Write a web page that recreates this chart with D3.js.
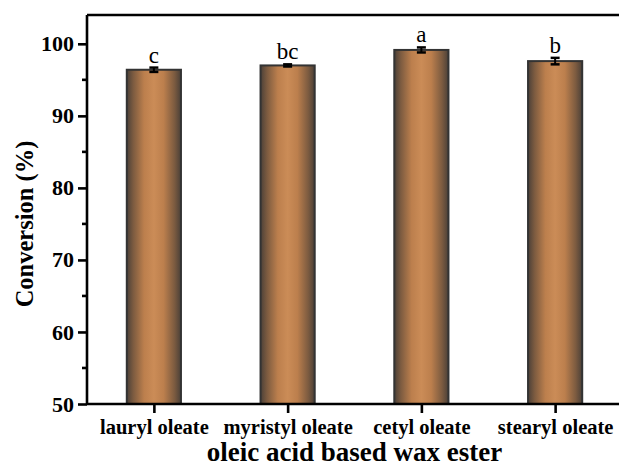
<!DOCTYPE html>
<html>
<head>
<meta charset="utf-8">
<script src="https://cdn.jsdelivr.net/npm/d3@7"></script>
<style>
  html, body { margin: 0; padding: 0; background: #fff; }
  svg { display: block; }
  text { font-family: "Liberation Serif", "Times New Roman", serif; fill: #000; }
</style>
</head>
<body>
<svg id="chart" width="619" height="468"></svg>
<script>
// Wax ester conversion data
const categories = ["lauryl oleate", "myristyl oleate", "cetyl oleate", "stearyl oleate"];
const conversion = [96.4, 97.0, 99.15, 97.6];
const errors = [0.3, 0.15, 0.35, 0.45];
const groupLetters = ["c", "bc", "a", "b"];
const yTicks = [50, 60, 70, 80, 90, 100];
const yMinorTicks = [55, 65, 75, 85, 95];

const svg = d3.select("#chart");
const plot = { left: 87, right: 622, top: 15, bottom: 404 };

const x = d3.scalePoint().domain(categories).range([plot.left, plot.right]).padding(0.5);
const y = d3.scaleLinear().domain([50, 104]).range([plot.bottom, plot.top]);
const barWidth = x.step() * 0.405;

// horizontal gradient giving the bars a cylindrical look
const defs = svg.append("defs");
const grad = defs.append("linearGradient").attr("id", "barGrad")
  .attr("x1", "0%").attr("x2", "100%").attr("y1", "0%").attr("y2", "0%");
[["0%", "#4b4038"], ["12%", "#7c5b40"], ["32%", "#bc7f4d"], ["50%", "#cb8c57"],
 ["68%", "#bc7f4d"], ["88%", "#7c5b40"], ["100%", "#4b4038"]]
  .forEach(([o, c]) => grad.append("stop").attr("offset", o).attr("stop-color", c));

const data = categories.map((c, i) => ({ cat: c, v: conversion[i], e: errors[i], g: groupLetters[i] }));

// bars
svg.append("g").selectAll("rect").data(data).join("rect")
  .attr("x", d => x(d.cat) - barWidth / 2)
  .attr("y", d => y(d.v))
  .attr("width", barWidth)
  .attr("height", d => y(50) - y(d.v))
  .attr("fill", "url(#barGrad)")
  .attr("stroke", "#333")
  .attr("stroke-width", 2);

// error bars
const eb = svg.append("g").attr("stroke", "#000").attr("stroke-width", 2);
data.forEach(d => {
  const cx = x(d.cat), cap = 4.5;
  eb.append("line").attr("x1", cx).attr("x2", cx).attr("y1", y(d.v + d.e)).attr("y2", y(d.v - d.e));
  eb.append("line").attr("x1", cx - cap).attr("x2", cx + cap).attr("y1", y(d.v + d.e)).attr("y2", y(d.v + d.e)).attr("stroke-width", 2.5);
  eb.append("line").attr("x1", cx - cap).attr("x2", cx + cap).attr("y1", y(d.v - d.e)).attr("y2", y(d.v - d.e)).attr("stroke-width", 2.5);
});

// significance letters
svg.append("g").selectAll("text").data(data).join("text")
  .attr("x", d => x(d.cat))
  .attr("y", d => y(d.v + d.e) - 5)
  .attr("text-anchor", "middle")
  .attr("font-size", 23)
  .text(d => d.g);

// frame (top and right)
svg.append("path")
  .attr("d", `M${plot.left},${plot.top}H${plot.right}V${plot.bottom}`)
  .attr("fill", "none").attr("stroke", "#000").attr("stroke-width", 2.6);

// y axis
const yAxis = svg.append("g").attr("transform", `translate(${plot.left},0)`)
  .call(d3.axisLeft(y).tickValues(yTicks).tickSize(9).tickPadding(4).tickFormat(d3.format("d")));
yAxis.append("g").selectAll("line").data(yMinorTicks).join("line")
  .attr("x1", 0).attr("x2", -5).attr("y1", d => y(d)).attr("y2", d => y(d))
  .attr("stroke", "#000").attr("stroke-width", 2.6);

// x axis
const xAxis = svg.append("g").attr("transform", `translate(0,${plot.bottom})`)
  .call(d3.axisBottom(x).tickSize(9).tickPadding(6));

[yAxis, xAxis].forEach(a => {
  a.select(".domain").attr("stroke", "#000").attr("stroke-width", 2.6);
  a.selectAll(".tick line").attr("stroke", "#000").attr("stroke-width", 2.6);
  a.selectAll(".tick text")
    .attr("font-family", "'Liberation Serif', 'Times New Roman', serif")
    .attr("font-weight", "bold").attr("fill", "#000");
});
yAxis.selectAll(".tick text").attr("font-size", 22);
xAxis.selectAll(".tick text").attr("font-size", 20.5);
yAxis.select(".domain").attr("d", `M0,${plot.bottom}V${plot.top}`);
xAxis.select(".domain").attr("d", `M${plot.left},0H${plot.right}`);

// axis titles
svg.append("text")
  .attr("transform", `translate(33,224) rotate(-90)`)
  .attr("text-anchor", "middle")
  .attr("font-size", 24.5).attr("font-weight", "bold")
  .text("Conversion (%)");

svg.append("text")
  .attr("x", (plot.left + plot.right) / 2)
  .attr("y", 461)
  .attr("text-anchor", "middle")
  .attr("font-size", 27).attr("font-weight", "bold")
  .text("oleic acid based wax ester");
</script>
</body>
</html>
